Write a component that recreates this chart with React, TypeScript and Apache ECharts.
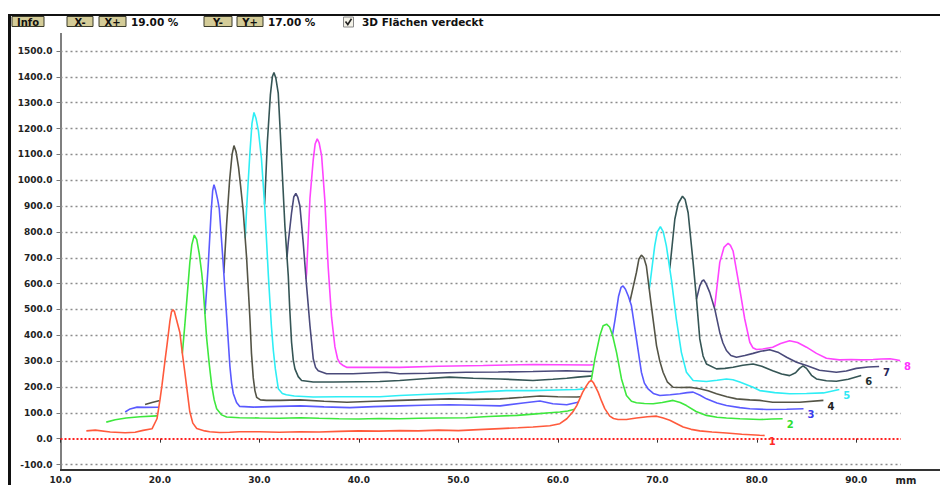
import React, { useEffect, useRef } from "react";
import * as echarts from "echarts";

type P = [number, number];

// Densitometer scans, eight tracks, x in mm, signal in counts (3D stacked view)
const track1: P[] = [[12.6,30],[13.5,33],[15.0,26],[16.5,23],[17.5,25],[18.3,32],[19.2,38],[19.7,77],[20.0,150],[20.2,206],[20.5,300],[20.7,360],[21.0,455],[21.15,490],[21.3,499],[21.45,492],[21.6,470],[22.0,411],[22.25,330],[22.5,257],[22.75,180],[23.0,104],[23.3,60],[23.7,39],[24.5,30],[25.0,27],[26.0,24],[27.0,25],[28.0,27],[30.0,27],[32.0,25],[34.1,27],[36.0,26],[38.0,28],[40.0,30],[42.0,29],[44.1,31],[46.0,30],[48.0,33],[50.0,31],[52.0,35],[54.2,39],[56.0,42],[57.5,45],[59.2,50],[60.2,58],[60.9,77],[61.5,103],[61.9,128],[62.5,180],[62.9,206],[63.15,220],[63.38,225],[63.6,215],[64.05,180],[64.4,145],[64.72,116],[65.22,87],[65.6,78],[66.06,74],[66.9,74],[67.9,80],[69.0,85],[69.92,87],[70.6,80],[71.26,71],[72.0,57],[72.6,45],[73.4,36],[74.27,30],[75.5,26],[76.95,22],[78.5,17],[80.3,13],[80.8,12]];
const track2: P[] = [[14.6,64],[15.5,73],[16.6,80],[18.0,85],[19.7,88],[21.0,92],[21.7,100],[22.0,190],[22.25,330],[22.5,440],[22.75,560],[23.0,680],[23.2,750],[23.45,788],[23.7,770],[23.95,715],[24.2,640],[24.35,580],[24.5,495],[24.7,386],[24.95,290],[25.2,206],[25.45,150],[25.7,116],[26.2,92],[26.7,84],[28.0,81],[30.0,80],[32.0,79],[34.1,81],[36.0,79],[38.0,77],[40.0,76],[42.0,78],[44.1,77],[46.0,79],[48.0,80],[50.8,81],[53.0,86],[55.9,90],[57.5,95],[59.2,100],[60.2,103],[61.0,107],[61.9,116],[62.5,130],[63.0,170],[63.4,235],[63.72,308],[64.22,398],[64.55,437],[64.9,443],[65.2,432],[65.5,400],[65.9,334],[66.4,231],[66.9,167],[67.4,145],[67.9,139],[68.7,136],[69.58,135],[70.5,140],[71.59,148],[72.3,140],[72.93,128],[73.9,105],[74.94,90],[76.0,83],[76.95,80],[78.3,77],[80.3,74],[81.5,76],[82.6,77]];
const track3: P[] = [[16.5,103],[17.0,115],[17.7,122],[18.5,121],[19.8,122],[21.0,124],[22.5,126],[23.4,135],[23.8,175],[24.1,290],[24.3,390],[24.52,480],[24.85,670],[25.15,880],[25.3,960],[25.43,983],[25.6,960],[25.8,925],[25.96,890],[26.15,790],[26.36,675],[26.7,475],[27.03,280],[27.2,215],[27.37,175],[27.7,140],[28.0,125],[29.4,122],[32.0,125],[34.1,127],[36.5,123],[39.1,120],[41.5,124],[44.1,127],[46.5,129],[49.1,131],[51.5,129],[54.2,127],[56.5,138],[58.2,146],[59.5,135],[60.9,131],[61.9,140],[62.5,148],[63.5,155],[64.3,190],[64.9,270],[65.4,380],[65.75,460],[66.1,550],[66.35,585],[66.56,591],[66.8,578],[67.1,550],[67.4,514],[67.9,386],[68.4,257],[68.7,215],[69.07,193],[69.6,175],[70.25,167],[71.3,170],[72.26,174],[73.0,178],[73.6,180],[74.3,168],[74.94,154],[76.0,138],[76.95,128],[78.3,120],[79.3,116],[81.0,113],[83.0,114],[84.7,116]];
const track4: P[] = [[18.5,132],[19.2,140],[20.0,148],[21.0,150],[23.0,152],[25.3,155],[25.7,200],[26.0,390],[26.36,600],[26.7,830],[27.0,1000],[27.25,1100],[27.44,1134],[27.65,1110],[27.9,1050],[28.1,980],[28.37,880],[28.71,700],[29.05,460],[29.2,330],[29.38,235],[29.55,185],[29.72,160],[30.1,150],[30.7,148],[32.1,148],[34.1,150],[36.5,145],[38.8,141],[41.5,145],[44.1,148],[46.5,151],[49.1,154],[51.5,152],[54.2,154],[56.5,160],[58.2,165],[60.0,162],[61.9,161],[63.0,165],[64.5,172],[65.5,180],[66.3,240],[66.8,380],[67.3,540],[67.9,643],[68.15,695],[68.4,710],[68.65,700],[68.9,668],[69.4,514],[69.92,360],[70.25,300],[70.58,257],[71.0,220],[71.59,199],[72.4,198],[73.26,199],[74.27,193],[75.1,185],[75.95,174],[77.0,162],[77.96,154],[79.3,150],[80.3,148],[81.6,141],[84.3,141],[86.7,148]];
const track5: P[] = [[20.6,160],[23.0,165],[25.5,168],[27.4,170],[27.9,230],[28.2,400],[28.5,720],[28.71,890],[29.05,1110],[29.25,1220],[29.45,1262],[29.65,1240],[29.9,1190],[30.2,1085],[30.55,887],[30.9,630],[31.2,437],[31.4,340],[31.6,270],[31.9,193],[32.3,175],[32.7,170],[33.5,165],[35.4,161],[38.0,162],[42.1,162],[44.1,167],[47.0,172],[50.8,177],[52.8,182],[54.8,186],[57.5,186],[59.8,188],[61.9,190],[63.5,195],[65.0,198],[66.5,205],[67.5,250],[68.3,400],[68.8,500],[69.24,591],[69.74,746],[70.0,800],[70.31,820],[70.6,800],[70.91,746],[71.41,617],[71.91,463],[72.42,334],[72.93,257],[73.6,225],[74.94,221],[76.0,226],[76.95,231],[77.6,228],[78.29,219],[79.63,199],[80.3,186],[81.8,178],[83.3,174],[85.0,175],[86.7,177],[88.3,190]];
const track6: P[] = [[22.5,215],[25.0,220],[27.5,225],[29.6,230],[30.0,450],[30.3,750],[30.55,930],[30.8,1150],[31.1,1330],[31.3,1400],[31.46,1417],[31.65,1395],[31.89,1337],[32.05,1220],[32.23,1080],[32.56,823],[32.9,630],[33.05,500],[33.23,373],[33.4,305],[33.57,270],[33.9,240],[34.24,225],[35.4,219],[37.4,219],[40.0,220],[42.1,221],[44.1,225],[46.5,232],[49.1,238],[51.5,234],[54.2,231],[57.5,225],[59.5,230],[60.9,234],[62.0,238],[63.2,242],[64.5,245],[66.0,250],[68.0,260],[69.5,300],[70.3,400],[70.8,540],[71.25,656],[71.76,849],[72.1,910],[72.53,938],[72.8,925],[73.1,874],[73.6,682],[73.94,540],[74.27,386],[74.6,320],[74.94,289],[75.95,270],[76.8,272],[77.62,276],[78.6,284],[79.63,289],[80.5,280],[81.6,263],[82.5,250],[83.3,244],[83.9,255],[84.3,272],[84.65,282],[85.0,272],[85.5,245],[86.0,231],[87.0,224],[88.0,222],[89.2,230],[90.5,244]];
const track7: P[] = [[24.5,250],[27.0,252],[29.5,255],[31.4,260],[31.9,330],[32.3,480],[32.6,620],[32.9,760],[33.23,874],[33.45,935],[33.66,949],[33.85,935],[34.07,900],[34.4,759],[34.74,591],[35.08,437],[35.41,309],[35.65,275],[35.91,263],[36.75,251],[39.4,251],[42.8,257],[44.1,251],[47.0,253],[50.8,257],[54.0,258],[57.5,260],[60.9,263],[63.2,260],[65.0,265],[67.0,270],[69.0,285],[71.0,300],[72.0,340],[72.8,400],[73.4,470],[73.94,540],[74.27,591],[74.5,610],[74.67,614],[74.9,600],[75.27,566],[75.78,501],[76.28,411],[76.6,370],[76.95,341],[77.4,322],[77.96,315],[78.8,322],[79.63,330],[80.4,338],[81.3,344],[82.2,333],[83.0,315],[84.0,296],[85.0,283],[86.3,265],[88.0,257],[89.0,262],[90.0,272],[91.2,277],[92.3,279]];
const track8: P[] = [[26.5,275],[29.0,278],[31.5,280],[33.5,290],[34.0,380],[34.4,500],[34.74,640],[35.08,930],[35.41,1080],[35.6,1140],[35.81,1160],[36.0,1145],[36.25,1095],[36.58,920],[36.91,665],[37.25,470],[37.59,355],[37.85,310],[38.09,292],[38.42,283],[38.76,276],[42.8,276],[44.1,276],[48.0,280],[52.5,283],[55.0,285],[57.5,287],[60.0,286],[63.2,285],[65.0,288],[67.0,290],[69.0,295],[71.0,300],[72.5,310],[73.5,330],[74.3,380],[75.0,430],[75.78,514],[76.28,682],[76.7,740],[77.12,756],[77.35,748],[77.62,726],[78.29,579],[78.79,463],[79.3,373],[79.6,352],[79.97,345],[80.6,347],[81.6,354],[82.4,368],[83.3,379],[84.1,372],[85.0,354],[86.0,330],[87.0,311],[88.3,305],[89.5,306],[90.5,305],[91.7,306],[92.5,308],[93.4,309],[94.0,305],[94.4,302]];

const tracks: P[][] = [track1, track2, track3, track4, track5, track6, track7, track8];
const trackNames = ["1", "2", "3", "4", "5", "6", "7", "8"];
const lineColors = ["#ff5a3c", "#3ee83e", "#5a5aff", "#545446", "#2eeef5", "#355555", "#4a4a7a", "#ff44ff"];
const labelColors = ["#ff2a2a", "#2ee02e", "#3a3aee", "#222222", "#2ee8f5", "#1e3030", "#28285a", "#ff30ff"];

const xTicks = [10, 20, 30, 40, 50, 60, 70, 80, 90];
const xMax = 94.5;
const yMin = -100;
const yMax = 1500;
const yStep = 100;

const FONT = "DejaVu Sans";

// Linear value of a track at x, or -Infinity outside its range
function valueAt(c: P[], x: number): number {
  if (x < c[0][0] || x > c[c.length - 1][0]) return -Infinity;
  let lo = 0;
  let hi = c.length - 1;
  while (hi - lo > 1) {
    const m = (lo + hi) >> 1;
    if (c[m][0] <= x) lo = m;
    else hi = m;
  }
  const [x0, y0] = c[lo];
  const [x1, y1] = c[hi];
  if (x1 === x0) return Math.max(y0, y1);
  return y0 + ((y1 - y0) * (x - x0)) / (x1 - x0);
}

// Hidden-surface removal: a back track is only drawn where it rises above
// every track in front of it. Cut points are placed on the track's own segments.
function hideBehind(curve: P[], fronts: P[][]): (number | null)[][] {
  const out: (number | null)[][] = [];
  if (fronts.length === 0) return curve.map((p) => [p[0], p[1]]);
  const diff = (x: number, y: number) => {
    let e = -Infinity;
    for (const f of fronts) e = Math.max(e, valueAt(f, x));
    return y - e;
  };
  const STEPS = 16;
  let vis = diff(curve[0][0], curve[0][1]) > 0;
  if (vis) out.push([curve[0][0], curve[0][1]]);
  for (let i = 1; i < curve.length; i++) {
    const [xa, ya] = curve[i - 1];
    const [xb, yb] = curve[i];
    for (let s = 1; s <= STEPS; s++) {
      const t1 = s / STEPS;
      const now = diff(xa + (xb - xa) * t1, ya + (yb - ya) * t1) > 0;
      if (now !== vis) {
        let a = (s - 1) / STEPS;
        let b = t1;
        for (let k = 0; k < 24; k++) {
          const m = (a + b) / 2;
          const vm = diff(xa + (xb - xa) * m, ya + (yb - ya) * m) > 0;
          if (vm === vis) a = m;
          else b = m;
        }
        const t = (a + b) / 2;
        const xc = xa + (xb - xa) * t;
        const yc = ya + (yb - ya) * t;
        out.push([xc, yc]);
        if (!now) out.push([xc, null]);
        vis = now;
      }
    }
    if (vis) out.push([xb, yb]);
  }
  return out;
}

function toolbar(): any[] {
  const btn = (x: number, w: number, label: string) => ({
    type: "group",
    children: [
      { type: "rect", shape: { x, y: 16.5, width: w, height: 10 }, style: { fill: "#d4cc98", stroke: "#3a3a2a", lineWidth: 1 } },
      { type: "text", x: x + w / 2, y: 22, style: { text: label, fill: "#111", font: `bold 10px "${FONT}"`, align: "center", verticalAlign: "middle" } },
    ],
  });
  const txt = (x: number, s: string) => ({
    type: "text",
    x,
    y: 22,
    style: { text: s, fill: "#111", font: `bold 10.5px "${FONT}"`, verticalAlign: "middle" },
  });
  return [
    btn(12, 32, "Info"),
    btn(67, 26, "X-"),
    btn(99, 27, "X+"),
    txt(131, "19.00 %"),
    btn(204, 28, "Y-"),
    btn(237, 26, "Y+"),
    txt(268, "17.00 %"),
    { type: "rect", shape: { x: 343.5, y: 17, width: 10, height: 10 }, style: { fill: "#f4f2e8", stroke: "#888", lineWidth: 1 } },
    { type: "polyline", shape: { points: [[345.5, 21.5], [347.8, 24.5], [351.5, 18.8]] }, style: { stroke: "#222", lineWidth: 1.6, fill: "none" } },
    txt(362, "3D Flächen verdeckt"),
  ];
}

export default function App() {
  const ref = useRef<HTMLDivElement>(null);

  useEffect(() => {
    if (!ref.current) return;
    const chart = echarts.init(ref.current, undefined, { renderer: "svg" });

    const series: any[] = tracks.map((c, i) => ({
      type: "line",
      name: trackNames[i],
      data: hideBehind(c, tracks.slice(0, i)),
      showSymbol: false,
      symbol: "none",
      connectNulls: false,
      z: 10 - i,
      lineStyle: { color: lineColors[i], width: 1.6 },
      itemStyle: { color: lineColors[i] },
      endLabel: {
        show: true,
        formatter: trackNames[i],
        color: labelColors[i],
        fontFamily: FONT,
        fontWeight: "bold",
        fontSize: 10,
        distance: 4,
        offset: [0, 6],
      },
      markLine:
        i === 0
          ? {
              silent: true,
              symbol: ["none", "none"],
              label: { show: false },
              lineStyle: { color: "#ff2020", type: [2, 2], width: 2 },
              data: [{ yAxis: 0 }],
            }
          : undefined,
    }));

    const gridColors: string[] = [];
    for (let v = yMin; v <= yMax; v += yStep) gridColors.push(v === 0 ? "rgba(0,0,0,0)" : "#8c8c8c");

    chart.setOption({
      animation: false,
      backgroundColor: "#ffffff",
      grid: { left: 60.5, right: 39, top: 51, bottom: 18.3, containLabel: false },
      xAxis: {
        type: "value",
        min: xTicks[0],
        max: xMax,
        interval: 10,
        offset: 3.5,
        axisLine: { show: false },
        splitLine: { show: false },
        axisTick: { show: true, length: 4, customValues: xTicks, lineStyle: { color: "#333" } },
        axisLabel: {
          customValues: [...xTicks, xMax],
          margin: 7,
          color: "#222",
          fontFamily: FONT,
          fontWeight: "bold",
          fontSize: 9,
          formatter: (v: number) => (v === xMax ? "{u|mm}" : v.toFixed(1)),
          rich: { u: { fontFamily: FONT, fontSize: 10, color: "#222", padding: [0, 0, 0, 10] } },
        },
      },
      yAxis: {
        type: "value",
        min: yMin,
        max: yMax,
        interval: yStep,
        axisLine: { show: false },
        axisTick: { show: true, length: 4, lineStyle: { color: "#777" } },
        axisLabel: {
          margin: 8,
          color: "#222",
          fontFamily: FONT,
          fontWeight: "bold",
          fontSize: 9,
          formatter: (v: number) => v.toFixed(1),
        },
        splitLine: { show: true, lineStyle: { color: gridColors, type: [2, 3], width: 1.3 } },
      },
      graphic: [
        { type: "rect", shape: { x: 8, y: 14, width: 3, height: 471 }, style: { fill: "#111" } },
        { type: "rect", shape: { x: 8, y: 14, width: 932, height: 2 }, style: { fill: "#111" } },
        { type: "line", shape: { x1: 61, y1: 33, x2: 61, y2: 470 }, style: { stroke: "#555", lineWidth: 1.5 } },
        { type: "line", shape: { x1: 60, y1: 470, x2: 940, y2: 470 }, style: { stroke: "#333", lineWidth: 2 } },
        ...toolbar(),
      ],
      series,
    });

    return () => chart.dispose();
  }, []);

  return <div ref={ref} style={{ position: "fixed", left: 0, top: 0, width: 940, height: 485 }} />;
}
